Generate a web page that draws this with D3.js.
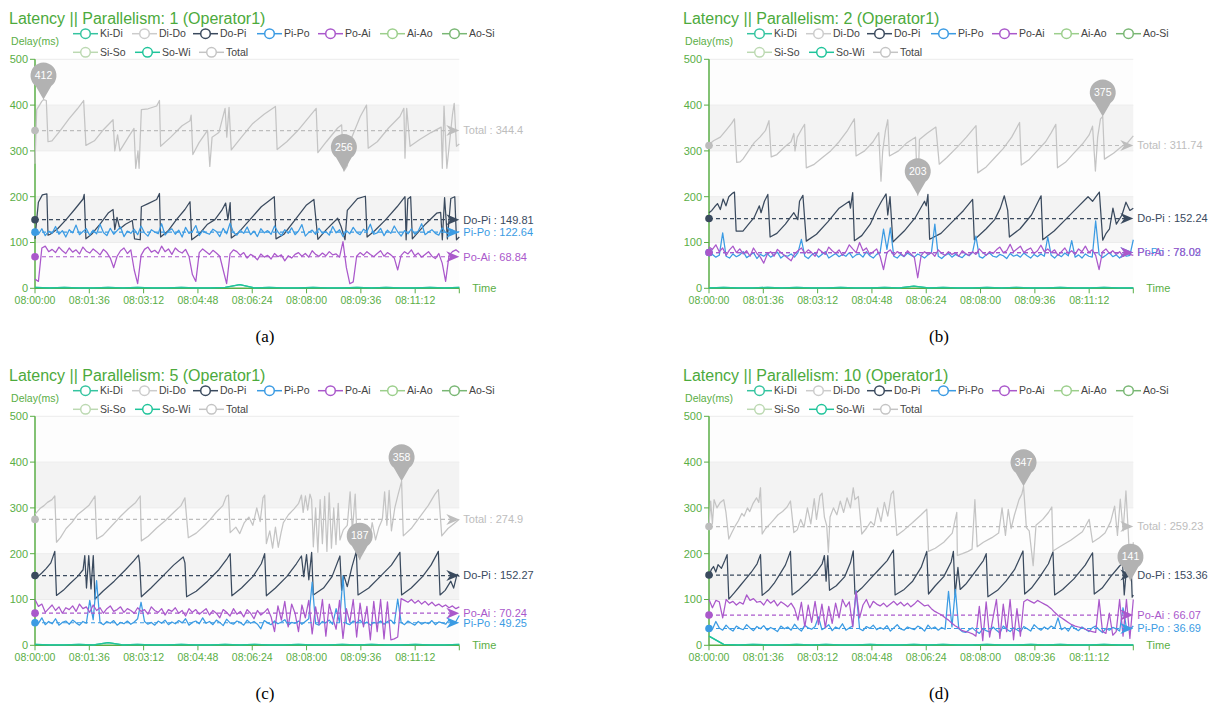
<!DOCTYPE html>
<html>
<head>
<meta charset="utf-8">
<title>Latency</title>
<script src="https://cdn.jsdelivr.net/npm/d3@7"></script>
<style>
  body { margin: 0; background: #fff; }
  svg { font-family: "Liberation Sans", Arial, sans-serif; }
</style>
</head>
<body>
<script>
  // shared labels
  var seriesNames = ["Ki-Di", "Di-Do", "Do-Pi", "Pi-Po", "Po-Ai", "Ai-Ao", "Ao-Si", "Si-So", "So-Wi", "Total"];
  var seriesColors = ["#35c4a0", "#cccccc", "#3a4a5e", "#3b9be3", "#aa58cb", "#9ccf8c", "#79b774", "#bcd9b2", "#1fc49a", "#c4c4c4"];
  var timeTicks = ["08:00:00", "08:01:36", "08:03:12", "08:04:48", "08:06:24", "08:08:00", "08:09:36", "08:11:12"];
  var delayTicks = [0, 100, 200, 300, 400, 500];
  var panelTitles = ["Latency || Parallelism: 1 (Operator1)", "Latency || Parallelism: 2 (Operator1)",
    "Latency || Parallelism: 5 (Operator1)", "Latency || Parallelism: 10 (Operator1)"];
  var panelCaptions = ["(a)", "(b)", "(c)", "(d)"];
  var markNames = ["Do-Pi", "Pi-Po", "Po-Ai", "Total"];

  // ---- panel a : [seconds, ms] for the sawtooth ones, evenly spaced for the noisy ones
  var totalA = [[0,272],[3,390],[8,400],[12,408],[15,412],[20,410],[23,320],[30,322],[45,345],[60,370],[75,392],[86,410],[90,312],[105,322],[120,345],[138,368],[141,300],[146,335],[150,300],[165,330],[175,349],[178,262],[182,300],[184,262],[188,390],[200,392],[215,398],[220,410],[222,310],[240,330],[260,355],[274,366],[276,378],[279,292],[290,318],[305,345],[309,266],[313,330],[325,340],[336,393],[339,330],[343,395],[347,302],[365,330],[385,360],[405,380],[425,397],[428,303],[445,320],[465,345],[485,375],[497,393],[500,296],[515,320],[535,350],[542,357],[546,256],[552,268],[560,330],[575,375],[586,400],[589,306],[605,320],[625,350],[645,375],[652,393],[654,284],[657,393],[663,310],[680,325],[700,340],[718,352],[720,262],[723,398],[728,262],[738,380],[741,404],[745,310],[750,315]];
  var doPiA = [[0,108],[3,150],[6,188],[13,204],[21,206],[23,116],[27,118],[40,130],[55,150],[70,172],[85,195],[87,205],[90,108],[100,118],[115,140],[130,165],[138,172],[141,128],[145,155],[150,130],[160,140],[172,148],[176,108],[186,106],[188,178],[200,185],[215,194],[220,207],[222,112],[235,125],[250,150],[265,172],[274,189],[277,106],[290,118],[305,140],[318,150],[330,170],[337,186],[341,150],[345,187],[347,110],[360,122],[380,150],[400,178],[423,200],[426,108],[440,118],[460,150],[480,182],[493,194],[500,107],[515,128],[535,153],[541,135],[548,106],[552,170],[570,196],[584,201],[587,112],[600,125],[620,150],[640,178],[654,200],[656,106],[659,195],[664,200],[667,108],[690,140],[710,164],[717,166],[720,106],[724,198],[729,108],[735,196],[742,200],[745,106],[750,112]];
  var piPoA = [122,118,130,115,125,120,135,118,126,112,128,121,138,117,124,130,116,127,119,140,122,115,131,118,126,134,113,125,120,129,117,136,121,114,128,123,119,141,116,125,130,118,127,112,133,120,124,137,115,126,121,118,129,124,113,131,119,142,122,116,127,120,134,117,125,113,130,121,126,118,136,123,115,128,120,132,117,125,139,114,122,127,118,131,120,124,116,135,121,128,113,126,119,133,122,117,129,124,140,118,121,131,115,127,120,136,123,114,126,119,130,118,125,141,117,123,128,120,116,132,122,119,127,121,124];
  var poAiA = [20,15,88,92,80,85,78,90,82,76,88,79,84,75,90,81,77,86,80,73,85,78,66,45,70,82,88,76,84,40,10,72,85,90,79,83,76,92,80,86,74,88,81,77,85,70,30,15,78,86,80,74,83,77,70,40,10,75,84,80,72,78,66,74,70,62,75,68,72,64,76,69,73,60,71,66,74,78,70,76,68,82,74,70,77,71,80,73,75,68,102,45,10,14,70,78,72,80,74,69,76,82,70,78,73,66,40,72,80,75,84,71,77,68,74,80,70,65,76,55,15,72,80,84,78];
  var lowA = [2,1,2,1,1,2,1,2,1,1,2,1,1,2,8,1,2,1,1,2,1,1,2,1,2,1,1,2,1,2];
  var meansA = [149.81, 122.64, 68.84, 344.4];

  // ---- panel b
  var totalB = [[0,314],[8,322],[20,330],[30,345],[40,360],[45,370],[49,275],[55,276],[60,282],[70,300],[80,318],[90,330],[100,345],[106,366],[110,287],[120,292],[135,310],[145,320],[150,338],[152,300],[156,330],[165,350],[169,358],[172,263],[185,270],[200,285],[215,300],[230,320],[245,345],[257,370],[260,289],[275,300],[290,320],[300,340],[304,234],[307,300],[312,345],[316,368],[319,289],[335,300],[350,318],[365,330],[369,203],[372,325],[385,338],[401,352],[407,271],[420,285],[440,310],[455,330],[465,345],[472,355],[475,252],[490,265],[505,285],[520,305],[535,330],[549,362],[552,269],[565,280],[580,300],[595,320],[605,340],[613,358],[616,263],[630,275],[645,295],[660,315],[672,335],[678,354],[683,256],[687,330],[692,370],[696,375],[699,282],[715,295],[730,310],[740,318],[750,333]];
  var doPiB = [[0,165],[5,170],[10,178],[15,185],[20,172],[25,195],[30,180],[35,200],[42,208],[45,210],[48,125],[60,125],[70,140],[80,155],[89,180],[92,165],[98,190],[104,205],[108,112],[120,120],[135,140],[150,165],[157,150],[160,190],[166,203],[172,103],[190,118],[210,145],[230,175],[248,190],[250,175],[254,209],[257,104],[270,115],[285,140],[296,170],[305,190],[313,206],[316,160],[320,200],[325,101],[345,125],[365,155],[381,190],[384,180],[387,205],[390,107],[410,120],[430,145],[450,170],[466,194],[469,106],[490,130],[505,150],[515,175],[522,202],[528,170],[531,112],[550,130],[570,160],[587,202],[590,106],[610,125],[630,150],[650,175],[670,200],[678,190],[684,200],[690,210],[696,105],[702,120],[708,130],[714,175],[720,140],[730,160],[737,188],[744,170],[750,175]];
  var piPoB = [70,74,68,72,121,70,66,75,69,73,80,67,72,78,65,74,70,76,68,73,79,66,72,70,75,68,78,107,70,65,73,77,68,74,80,66,71,76,69,74,70,78,67,73,75,68,80,71,66,74,78,129,85,132,70,66,74,69,77,72,68,75,71,66,73,78,140,70,65,72,76,68,74,70,67,75,71,78,114,69,66,73,77,70,68,74,71,65,76,70,73,68,77,71,66,74,69,75,70,112,72,66,74,69,77,71,104,68,73,66,75,70,68,147,74,67,72,78,69,73,66,74,70,72,106];
  var poAiB = [90,85,95,80,88,72,84,92,78,86,75,82,70,88,76,68,55,74,80,70,85,78,72,66,60,75,82,88,76,84,78,70,86,80,74,90,82,76,84,72,80,95,86,78,100,82,88,74,80,86,70,41,78,84,72,80,76,70,82,75,68,23,72,80,74,78,70,84,76,72,80,74,78,70,82,76,72,80,74,86,78,72,80,76,84,90,78,82,96,80,86,92,78,84,88,76,82,94,80,86,78,84,72,80,88,76,82,74,86,80,92,78,84,72,41,80,86,76,82,74,80,70,78,74,72];
  var lowB = [1,2,1,1,2,1,2,1,1,2,1,1,2,1,5,1,2,1,1,2,1,2,1,1,2,1,1,2,1,1];
  var meansB = [152.24, 78.02, 78.09, 311.74];

  // ---- panel c
  var totalC = [[0,286],[4,292],[10,300],[16,305],[22,312],[30,318],[35,326],[38,225],[45,235],[55,255],[65,268],[75,285],[85,295],[95,305],[102,318],[106,326],[109,232],[120,240],[135,260],[150,280],[165,298],[178,312],[186,326],[188,228],[200,238],[215,256],[230,272],[245,290],[258,305],[265,322],[271,235],[285,245],[300,262],[310,275],[320,290],[332,305],[338,325],[342,328],[345,246],[355,258],[362,244],[370,268],[378,280],[385,262],[392,300],[398,270],[403,322],[406,328],[409,222],[415,250],[420,212],[425,258],[430,214],[435,246],[439,268],[448,285],[458,298],[466,310],[471,328],[474,290],[478,326],[482,295],[486,330],[489,318],[492,215],[496,300],[500,203],[504,318],[508,222],[512,325],[516,205],[520,333],[524,212],[528,300],[532,220],[536,310],[539,230],[545,252],[552,262],[557,335],[561,250],[566,330],[570,210],[574,187],[578,245],[584,262],[590,222],[596,268],[602,230],[608,258],[614,275],[618,335],[622,262],[626,338],[630,250],[636,300],[642,330],[648,358],[651,239],[665,255],[680,280],[695,305],[707,330],[713,340],[719,239],[730,255],[740,265],[750,275]];
  var doPiC = [[0,145],[5,150],[12,158],[20,168],[28,180],[35,205],[38,109],[50,120],[62,135],[75,150],[85,165],[88,196],[91,125],[95,196],[99,123],[103,196],[106,101],[120,118],[140,140],[160,165],[175,185],[183,197],[185,180],[188,106],[205,125],[225,150],[245,175],[262,193],[265,180],[268,106],[285,118],[305,140],[325,165],[340,190],[345,200],[348,108],[365,125],[385,150],[400,178],[406,200],[409,108],[425,125],[445,150],[462,178],[471,195],[475,150],[480,198],[484,143],[489,203],[492,110],[510,125],[525,150],[539,195],[542,120],[546,152],[552,128],[560,170],[568,205],[571,110],[590,125],[610,150],[630,175],[645,203],[648,110],[665,125],[685,150],[700,175],[713,205],[716,110],[725,120],[735,140],[740,125],[746,155],[750,150]];
  var piPoC = [55,48,60,45,52,47,58,44,50,53,46,55,49,44,52,48,98,56,141,50,45,52,48,54,44,50,47,53,46,51,58,94,52,46,50,44,53,48,55,45,51,47,54,49,58,44,50,53,47,60,48,52,45,55,50,43,57,49,46,53,50,44,55,48,52,46,36,54,49,45,53,47,51,56,44,50,48,53,46,52,58,138,47,44,52,49,55,46,80,50,152,48,45,53,49,55,46,51,44,50,48,53,46,52,55,47,101,50,45,53,48,44,52,46,50,47,54,45,51,49,46,55,48,52,65];
  var poAiC = [100,85,90,72,80,88,76,84,70,82,78,86,74,90,80,84,72,88,76,82,70,80,86,74,78,84,72,80,76,70,82,74,78,68,84,76,72,80,66,78,74,82,70,76,64,80,72,78,68,74,80,66,76,70,60,78,72,64,80,68,74,62,78,70,58,76,66,72,80,62,30,86,55,96,40,90,70,30,88,60,98,25,84,45,100,20,90,60,35,98,15,80,50,100,18,92,40,85,12,96,30,100,14,95,12,14,18,102,98,94,100,92,98,90,96,88,94,86,90,84,88,82,86,80,84];
  var lowC = [2,1,1,2,1,6,1,2,1,1,2,1,1,2,1,2,1,1,2,1,1,2,1,2,1,1,2,1,1,2];
  var meansC = [152.27, 49.25, 70.24, 274.9];

  // ---- panel d
  var totalD = [[0,258],[3,315],[6,265],[9,318],[14,300],[20,312],[26,318],[30,290],[35,232],[40,245],[47,262],[52,272],[58,288],[62,282],[68,300],[72,292],[78,310],[84,322],[88,312],[91,344],[94,243],[100,255],[108,265],[115,275],[122,285],[130,292],[138,302],[144,315],[150,246],[156,252],[162,275],[168,258],[174,300],[180,265],[186,320],[190,275],[196,326],[200,332],[204,280],[208,262],[211,203],[214,280],[220,300],[226,285],[232,315],[238,290],[244,322],[250,300],[255,344],[258,318],[264,325],[270,243],[278,255],[286,270],[292,262],[298,300],[304,270],[310,312],[316,282],[322,330],[326,337],[332,240],[345,252],[360,268],[375,285],[385,297],[388,205],[400,212],[415,225],[430,245],[438,290],[439,196],[448,200],[458,205],[465,210],[470,318],[474,215],[485,225],[500,235],[512,245],[518,300],[524,240],[529,297],[534,255],[540,285],[548,318],[553,330],[556,347],[561,257],[566,250],[573,174],[578,262],[590,275],[600,290],[606,302],[608,206],[620,215],[640,230],[660,248],[672,275],[678,225],[690,235],[700,245],[710,270],[717,304],[722,240],[727,319],[732,250],[737,337],[741,250],[745,141],[750,225]];
  var doPiD = [[0,152],[4,165],[8,172],[12,160],[16,176],[22,168],[28,185],[32,198],[35,101],[45,115],[55,130],[65,145],[75,160],[85,178],[91,198],[94,109],[105,120],[115,135],[125,155],[135,175],[144,205],[147,110],[160,122],[175,140],[190,160],[200,178],[204,196],[207,140],[210,196],[213,120],[225,130],[240,150],[250,180],[255,206],[258,112],[270,125],[285,145],[300,165],[315,185],[326,208],[329,110],[345,122],[360,140],[375,170],[385,205],[388,112],[400,130],[415,150],[428,182],[432,205],[435,110],[440,170],[444,122],[455,135],[470,160],[485,185],[490,200],[493,106],[510,120],[525,140],[540,165],[555,206],[558,112],[570,125],[585,150],[600,178],[608,204],[611,110],[625,122],[645,145],[665,175],[678,202],[681,112],[695,125],[710,150],[725,172],[731,180],[734,110],[738,170],[743,150],[746,180],[748,105],[750,110]];
  var piPoD = [40,35,52,38,33,44,36,31,42,37,34,45,38,32,41,36,43,33,39,35,30,42,36,40,33,46,37,31,44,38,35,41,62,34,39,45,32,40,36,47,33,38,42,120,36,32,41,37,44,34,39,35,43,31,38,45,36,33,40,37,34,42,38,31,44,36,40,33,39,35,118,40,122,36,30,28,34,38,31,26,36,32,29,40,33,27,42,35,30,38,34,29,41,36,31,45,38,33,40,35,42,37,60,34,39,31,43,36,32,40,35,30,38,42,34,28,37,33,39,36,31,82,38,35,42];
  var poAiD = [100,82,98,95,60,100,92,96,88,94,90,110,98,102,94,96,88,100,92,98,86,95,90,84,92,80,55,94,40,88,50,96,45,90,38,85,48,92,60,100,84,95,40,118,60,88,100,82,96,90,86,92,84,90,96,88,94,86,92,84,90,98,92,86,88,80,74,70,66,60,55,48,42,38,32,30,28,25,20,85,10,95,18,60,100,15,90,30,100,12,80,20,95,100,96,92,98,94,90,86,80,72,65,60,55,50,45,42,40,38,35,32,30,28,100,30,26,70,22,30,100,20,100,15,100];
  var lowD = [20,2,1,2,1,1,2,1,2,1,1,2,1,1,2,1,2,1,1,2,1,1,2,1,2,1,1,2,1,1];
  var meansD = [153.36, 36.69, 66.07, 259.23];

  var T_END = 750; // seconds shown on the time axis
  var green = "#5aae46";

  var svg = d3.select("body").append("svg").attr("width", 1209).attr("height", 707);

  // evenly spaced list -> [seconds, value]
  function spread(arr) {
    return arr.map(function (v, i) { return [i * T_END / (arr.length - 1), v]; });
  }

  function pinPath(px, py) {
    var r = 13, cy = py - 24;
    return "M" + px + "," + py +
      " L" + (px - r * 0.6) + "," + (cy + r * 0.8) +
      " A" + r + "," + r + " 0 1 1 " + (px + r * 0.6) + "," + (cy + r * 0.8) + " Z";
  }

  function drawPanel(ox, oy, k, total, doPi, piPo, poAi, low, means) {
    var g = svg.append("g").attr("transform", "translate(" + ox + "," + oy + ")");
    var x = d3.scaleLinear().domain([0, T_END]).range([35, 459.3]);
    var y = d3.scaleLinear().domain([0, 500]).range([288.3, 59.3]);

    // split areas + lines
    for (var i = 0; i < 5; i++) {
      g.append("rect").attr("x", x(0)).attr("width", x(T_END) - x(0))
        .attr("y", y(delayTicks[i + 1])).attr("height", y(delayTicks[i]) - y(delayTicks[i + 1]))
        .attr("fill", i % 2 ? "#f3f3f3" : "#fdfdfd");
    }
    g.selectAll(".split").data(delayTicks.slice(1)).enter().append("line")
      .attr("x1", x(0)).attr("x2", x(T_END))
      .attr("y1", function (d) { return y(d); }).attr("y2", function (d) { return y(d); })
      .attr("stroke", "#ececec");

    // title
    g.append("text").attr("x", 9).attr("y", 24).attr("fill", "#4caa3c")
      .attr("font-size", 16).text(panelTitles[k]);

    // legend
    var row1 = [0, 59, 120, 184, 245, 307, 369], row2 = [0, 62, 126];
    seriesNames.forEach(function (name, j) {
      var lx = 73 + (j < 7 ? row1[j] : row2[j - 7]);
      var ly = j < 7 ? 33.7 : 52.3;
      var c = seriesColors[j];
      g.append("line").attr("x1", lx).attr("x2", lx + 25).attr("y1", ly).attr("y2", ly)
        .attr("stroke", c).attr("stroke-width", 1.5);
      g.append("circle").attr("cx", lx + 12.5).attr("cy", ly).attr("r", 4.8)
        .attr("fill", "#fff").attr("stroke", c).attr("stroke-width", 1.5);
      g.append("text").attr("x", lx + 27).attr("y", ly).attr("dy", "0.35em")
        .attr("font-size", 10.5).attr("fill", "#444").text(name);
    });

    // axes
    g.append("text").attr("x", 35).attr("y", 45).attr("text-anchor", "middle")
      .attr("font-size", 10.5).attr("fill", green).text("Delay(ms)");
    g.append("line").attr("x1", x(0)).attr("x2", x(0)).attr("y1", y(0)).attr("y2", y(500))
      .attr("stroke", green).attr("stroke-width", 1.5);
    delayTicks.forEach(function (d) {
      g.append("line").attr("x1", x(0) - 5).attr("x2", x(0)).attr("y1", y(d)).attr("y2", y(d))
        .attr("stroke", green);
      g.append("text").attr("x", x(0) - 7).attr("y", y(d)).attr("dy", "0.35em")
        .attr("text-anchor", "end").attr("font-size", 11).attr("fill", green).text(d);
    });
    g.append("line").attr("x1", x(0)).attr("x2", x(T_END)).attr("y1", y(0)).attr("y2", y(0))
      .attr("stroke", green).attr("stroke-width", 1.5);
    timeTicks.forEach(function (lab, j) {
      var tx = x(j * 96);
      g.append("line").attr("x1", tx).attr("x2", tx).attr("y1", y(0)).attr("y2", y(0) + 5)
        .attr("stroke", green);
      g.append("text").attr("x", tx).attr("y", y(0) + 16).attr("text-anchor", "middle")
        .attr("font-size", 10.5).attr("fill", green).text(lab);
    });
    g.append("line").attr("x1", x(T_END)).attr("x2", x(T_END)).attr("y1", y(0)).attr("y2", y(0) + 5)
      .attr("stroke", green);
    g.append("text").attr("x", x(T_END) + 13).attr("y", y(0)).attr("dy", "0.35em")
      .attr("font-size", 11).attr("fill", green).text("Time");

    // series, in legend order
    var line = d3.line().x(function (d) { return x(d[0]); }).y(function (d) { return y(d[1]); });
    var drawn = [[low, 0], [doPi, 2], [piPo, 3], [poAi, 4], [low, 8], [total, 9]];
    drawn.forEach(function (s) {
      g.append("path").datum(s[0]).attr("d", line).attr("fill", "none")
        .attr("stroke", seriesColors[s[1]]).attr("stroke-width", 1.25).attr("stroke-linejoin", "round");
    });

    // average mark lines
    var markIdx = [2, 3, 4, 9];
    means.forEach(function (m, j) {
      var c = j == 3 ? "#bdbdbd" : seriesColors[markIdx[j]];
      var my = y(m), x0 = x(0), x1 = x(T_END);
      g.append("line").attr("x1", x0).attr("x2", x1 - 6).attr("y1", my).attr("y2", my)
        .attr("stroke", c).attr("stroke-dasharray", "4,3").attr("stroke-width", 1.2);
      g.append("circle").attr("cx", x0).attr("cy", my).attr("r", 3.8).attr("fill", c);
      g.append("path").attr("d", "M" + x1 + "," + my + " l-13,-5.5 l4,5.5 l-4,5.5 Z").attr("fill", c);
      g.append("text").attr("x", x1 + 4).attr("y", my).attr("dy", "0.35em").attr("font-size", 11)
        .attr("fill", c).text(markNames[j] + " : " + m);
    });

    // max / min pins on Total
    var hi = total.reduce(function (a, b) { return b[1] > a[1] ? b : a; });
    var lo = total.reduce(function (a, b) { return b[1] < a[1] ? b : a; });
    [hi, lo].forEach(function (p) {
      var px = x(p[0]), py = y(p[1]);
      g.append("path").attr("d", pinPath(px, py)).attr("fill", "#b2b2b2");
      g.append("text").attr("x", px).attr("y", py - 24).attr("dy", "0.35em").attr("text-anchor", "middle")
        .attr("font-size", 10.5).attr("fill", "#fff").text(p[1]);
    });

    // caption
    svg.append("text").attr("x", ox + 265).attr("y", oy + 342).attr("text-anchor", "middle")
      .attr("font-family", "Liberation Serif, serif").attr("font-size", 17).attr("fill", "#000")
      .text(panelCaptions[k]);
  }

  drawPanel(0, 0, 0, totalA, doPiA, spread(piPoA), spread(poAiA), spread(lowA), meansA);
  drawPanel(674, 0, 1, totalB, doPiB, spread(piPoB), spread(poAiB), spread(lowB), meansB);
  drawPanel(0, 357, 2, totalC, doPiC, spread(piPoC), spread(poAiC), spread(lowC), meansC);
  drawPanel(674, 357, 3, totalD, doPiD, spread(piPoD), spread(poAiD), spread(lowD), meansD);
</script>
</body>
</html>
